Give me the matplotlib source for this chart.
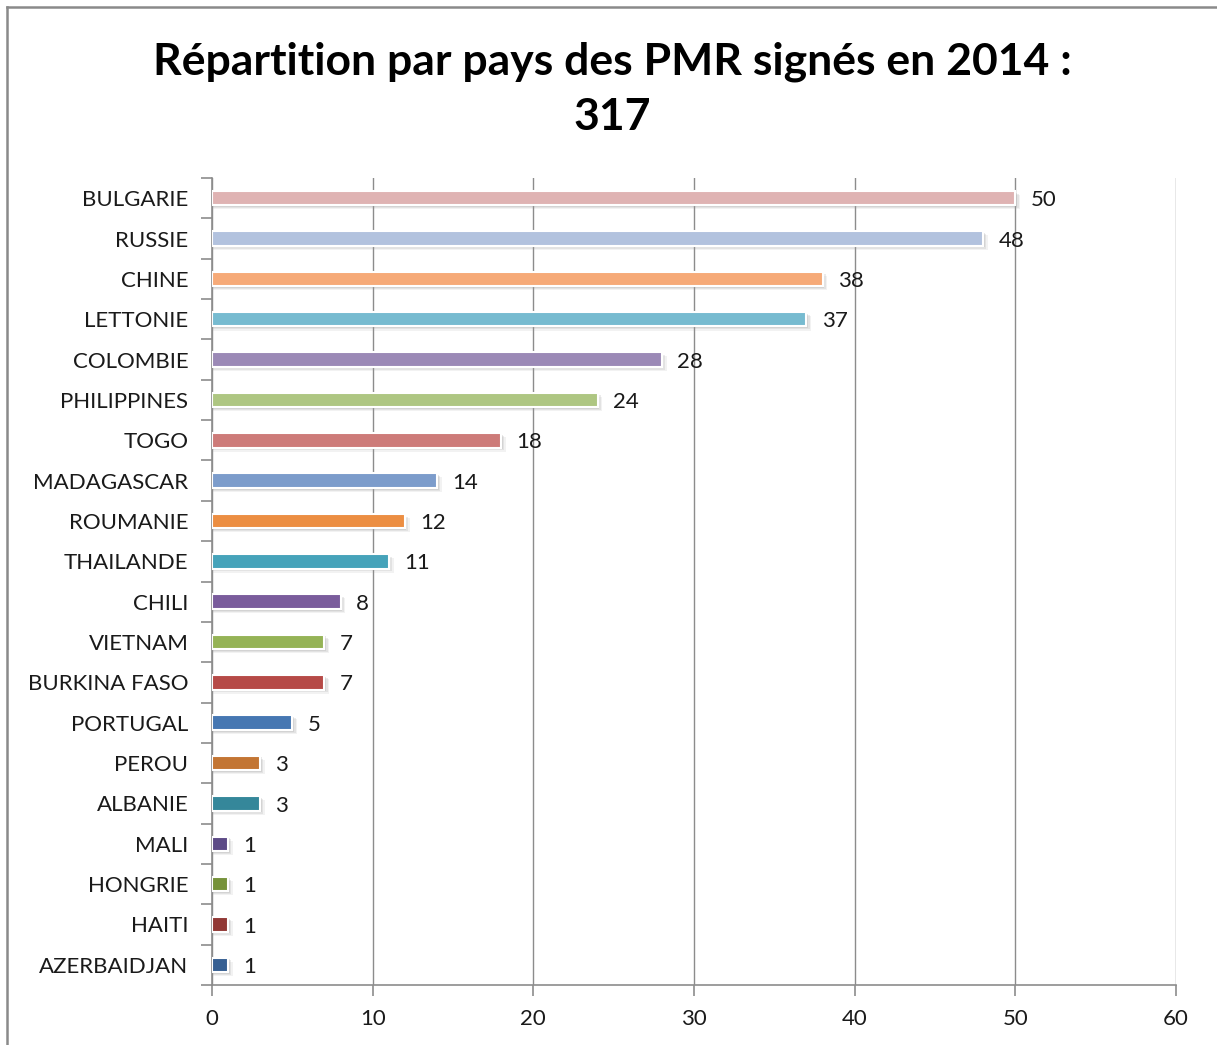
import matplotlib
matplotlib.use("Agg")
import matplotlib.pyplot as plt
from matplotlib.lines import Line2D

countries = ["BULGARIE", "RUSSIE", "CHINE", "LETTONIE", "COLOMBIE", "PHILIPPINES",
             "TOGO", "MADAGASCAR", "ROUMANIE", "THAILANDE", "CHILI", "VIETNAM",
             "BURKINA FASO", "PORTUGAL", "PEROU", "ALBANIE", "MALI", "HONGRIE",
             "HAITI", "AZERBAIDJAN"]
values = [50, 48, 38, 37, 28, 24, 18, 14, 12, 11, 8, 7, 7, 5, 3, 3, 1, 1, 1, 1]
colors = ["#DFB3B3", "#B2C2DE", "#F6AA78", "#77BBD0", "#9B89B6", "#AEC682",
          "#CD7B79", "#7C9CCB", "#EC8E42", "#46A3BA", "#7A5C9C", "#95B356",
          "#B64A47", "#4677B2", "#C37533", "#35879A", "#5C4A86", "#76923A",
          "#913835", "#365F92"]
xticks = [0, 10, 20, 30, 40, 50, 60]
title = "Répartition par pays des PMR signés en 2014 :\n317"

plt.rcParams['font.family'] = ['Lato', 'DejaVu Sans']

W, H = 1217, 1045
fig = plt.figure(figsize=(W / 100, H / 100), dpi=100)
ax = fig.add_axes([212 / W, 1 - 985 / H, (1176 - 212) / W, (985 - 178) / H])

n = len(countries)
ypos = list(range(n))
bh = 0.36

# soft shadows (layered)
for dy, ext, a in [(0.10, 0.30, 0.12), (0.07, 0.20, 0.18), (0.04, 0.10, 0.22)]:
    ax.barh([y + dy for y in ypos], [v + ext for v in values], height=bh,
            color="#9a9a9a", alpha=a, edgecolor="none", zorder=2)
ax.barh(ypos, values, height=bh, color=colors, edgecolor="white", linewidth=1.5,
        zorder=3)

for y, v in zip(ypos, values):
    ax.annotate(str(v), xy=(v, y), xytext=(11, -1.5), textcoords="offset points",
                ha="left", va="center", fontsize=16, color="#1a1a1a", zorder=4)

ax.set_xlim(0, 60)
ax.set_ylim(n - 0.5, -0.5)
ax.set_xticks(xticks)
ax.set_xticklabels([str(t) for t in xticks], fontsize=16, color="#1a1a1a")
ax.set_yticks(ypos)
ax.set_yticklabels(countries, fontsize=16, color="#1a1a1a")
ax.tick_params(axis="y", which="major", length=0, pad=17)
ax.set_yticks([i - 0.5 for i in range(n + 1)], minor=True)
ax.tick_params(axis="y", which="minor", length=8, width=1.2, color="#8c8c8c")
ax.tick_params(axis="x", length=8, width=1.2, color="#8c8c8c", pad=9)

ax.grid(axis="x", color="#8c8c8c", linewidth=1.0, zorder=0)
ax.set_axisbelow(True)
for s in ["top", "right"]:
    ax.spines[s].set_visible(False)
ax.spines["left"].set_color("#8c8c8c")
ax.spines["bottom"].set_color("#8c8c8c")
ax.spines["left"].set_linewidth(1.2)
ax.spines["bottom"].set_linewidth(1.2)

fig.text(612 / W, 1 - 89 / H, title, ha="center", va="center", fontsize=32,
         fontweight="bold", linespacing=1.45, color="black")

# outer frame
fig.add_artist(Line2D([7 / W, 7 / W], [0, 1 - 7 / H], transform=fig.transFigure,
                      color="#8a8a8a", linewidth=1.8))
fig.add_artist(Line2D([7 / W, 1], [1 - 7 / H, 1 - 7 / H], transform=fig.transFigure,
                      color="#8a8a8a", linewidth=1.8))

fig.savefig("out.png", dpi=100, facecolor="white")
